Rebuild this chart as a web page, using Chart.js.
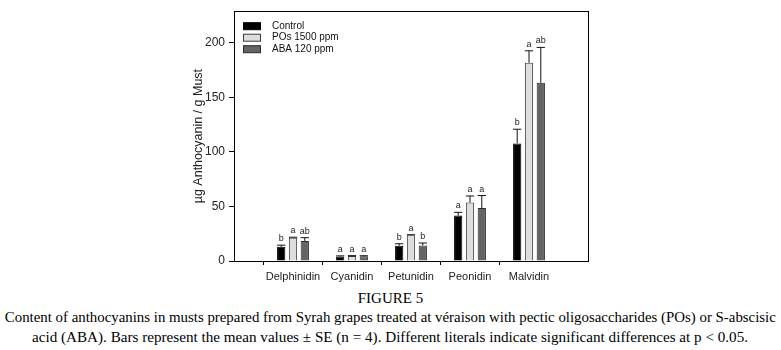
<!DOCTYPE html>
<html>
<head>
<meta charset="utf-8">
<script src="https://cdn.jsdelivr.net/npm/chart.js@4"></script>
<style>
  body { margin: 0; background: #fff; width: 781px; height: 350px; overflow: hidden; position: relative; }
  #wrap { position: absolute; left: 0; top: 0; width: 781px; height: 290px; }
  .cap { position: absolute; left: 0; width: 781px; text-align: center; white-space: nowrap; line-height: 1;
         font-family: "Liberation Serif", "Times New Roman", serif; color: #000; }
  .cap span { display: inline-block; transform-origin: center; }
</style>
</head>
<body>
<div id="wrap"><canvas id="anthoChart"></canvas></div>
<div class="cap" style="top:291px;font-size:15px"><span id="c0">FIGURE 5</span></div>
<div class="cap" style="top:311px;font-size:14px"><span id="c1">Content of anthocyanins in musts prepared from Syrah grapes treated at véraison with pectic oligosaccharides (POs) or S-abscisic</span></div>
<div class="cap" style="top:330.5px;font-size:14px"><span id="c2">acid (ABA). Bars represent the mean values ± SE (n = 4). Different literals indicate significant differences at p &lt; 0.05.</span></div>
<script>
const categories = ['Delphinidin', 'Cyanidin', 'Petunidin', 'Peonidin', 'Malvidin']
const seriesNames = ['Control', 'POs 1500 ppm', 'ABA 120 ppm']

const control = [13, 4.2, 14, 41.6, 107.8]
const controlSE = [1.5, 0.5, 1.8, 3, 13]
const controlLetters = ['b', 'a', 'b', 'a', 'b']

const pos = [21.4, 4.5, 23.5, 53.6, 181.7]
const posSE = [0.4, 0.4, 0.6, 6, 11]
const posLetters = ['a', 'a', 'a', 'a', 'a']

const aba = [18.4, 4.3, 14.2, 48.5, 163.3]
const abaSE = [3, 0.5, 2.3, 11.5, 32.5]
const abaLetters = ['ab', 'a', 'b', 'a', 'ab']

const yTicks = [0, 50, 100, 150, 200]

// pad one empty slot on each side so categories sit where the original puts them
const pad = arr => [null, ...arr, null]
const labels = ['', ...categories, '']

const fills = ['#000000', '#dedede', '#646464']
const borders = ['#000000', '#3a3a3a', '#2a2a2a']
const errs = [controlSE, posSE, abaSE]
const letters = [controlLetters, posLetters, abaLetters]

const errorBars = {
    id: 'errorBars',
    afterDatasetsDraw(chart) {
        const { ctx, scales: { y } } = chart
        chart.data.datasets.forEach((ds, i) => {
            const meta = chart.getDatasetMeta(i)
            meta.data.forEach((bar, k) => {
                const v = ds.data[k]
                if (v == null) return
                const se = errs[i][k - 1]
                const top = y.getPixelForValue(v + se)
                const half = bar.width / 2
                ctx.save()
                ctx.strokeStyle = '#111'
                ctx.lineWidth = 1
                ctx.beginPath()
                ctx.moveTo(bar.x, bar.y)
                ctx.lineTo(bar.x, top)
                ctx.moveTo(bar.x - half, top)
                ctx.lineTo(bar.x + half, top)
                ctx.stroke()
                ctx.fillStyle = '#222'
                ctx.font = '9px "Liberation Sans", Arial, sans-serif'
                ctx.textAlign = 'center'
                ctx.textBaseline = 'bottom'
                ctx.fillText(letters[i][k - 1], bar.x, top - 2)
                ctx.restore()
            })
        })
    }
}

const frameAndLegend = {
    id: 'frameAndLegend',
    afterDraw(chart) {
        const { ctx, chartArea: a } = chart
        ctx.save()
        ctx.strokeStyle = '#000'
        ctx.lineWidth = 1
        ctx.strokeRect(Math.round(a.left) + 0.5, Math.round(a.top) + 0.5,
            Math.round(a.right - a.left), Math.round(a.bottom - a.top))
        ctx.font = '10px "Liberation Sans", Arial, sans-serif'
        ctx.textBaseline = 'middle'
        seriesNames.forEach((name, i) => {
            const yy = a.top + 15 + i * 11.5
            ctx.fillStyle = fills[i]
            ctx.fillRect(a.left + 9.5, yy - 3.5, 17, 7)
            ctx.strokeStyle = borders[i]
            ctx.strokeRect(a.left + 9.5, yy - 3.5, 17, 7)
            ctx.fillStyle = '#111'
            ctx.fillText(name, a.left + 38, yy)
        })
        ctx.restore()
    }
}

new Chart(document.getElementById('anthoChart'), {
    type: 'bar',
    data: {
        labels: labels,
        datasets: [control, pos, aba].map((d, i) => ({
            label: seriesNames[i],
            data: pad(d),
            backgroundColor: fills[i],
            borderColor: borders[i],
            borderWidth: 1,
            categoryPercentage: 0.6,
            barPercentage: 0.7
        }))
    },
    options: {
        responsive: true,
        maintainAspectRatio: false,
        animation: false,
        layout: { padding: { left: 191, right: 193, top: 7, bottom: 0 } },
        plugins: { legend: { display: false }, tooltip: { enabled: false } },
        scales: {
            x: {
                offset: false,
                grid: {
                    drawOnChartArea: false,
                    tickLength: 4,
                    tickColor: c => (c.index === 0 || c.index === labels.length - 1) ? 'rgba(0,0,0,0)' : '#000'
                },
                border: { display: true, color: '#000', width: 1 },
                ticks: { color: '#222', font: { family: '"Liberation Sans", Arial', size: 11 }, maxRotation: 0, autoSkip: false, padding: 5 },
                afterFit: s => { s.height = 29 }
            },
            y: {
                min: 0,
                max: 229,
                afterBuildTicks: s => { s.ticks = yTicks.map(v => ({ value: v })) },
                grid: { drawOnChartArea: false, tickLength: 5, tickColor: '#000' },
                border: { display: true, color: '#000', width: 1 },
                ticks: { color: '#222', font: { family: '"Liberation Sans", Arial', size: 12 }, padding: 4 },
                title: {
                    display: true,
                    text: 'µg Anthocyanin / g Must',
                    color: '#222',
                    font: { family: '"Liberation Sans", Arial', size: 12.5 },
                    padding: 0
                },
                afterFit: s => { s.width = 43 }
            }
        }
    },
    plugins: [errorBars, frameAndLegend]
})

// squeeze caption lines to the width they take in the original
const fit = (id, w) => {
    const el = document.getElementById(id)
    const k = w / el.getBoundingClientRect().width
    el.style.transform = 'scaleX(' + k + ')'
}
fit('c1', 771)
fit('c2', 716)
</script>
</body>
</html>
